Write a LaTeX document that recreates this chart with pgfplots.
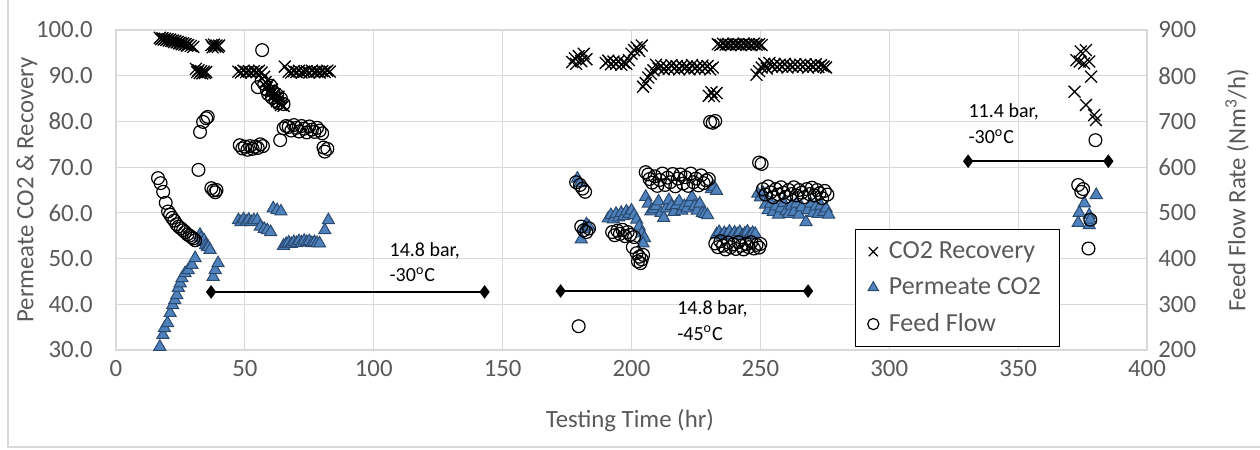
\documentclass[border=0pt]{standalone}
\usepackage{fontspec}
\setmainfont{Carlito}
\usepackage{pgfplots}
\pgfplotsset{compat=1.18}
\definecolor{txt}{HTML}{595959}
\definecolor{grd}{HTML}{D9D9D9}
\definecolor{trifill}{HTML}{4F81BD}
\definecolor{triedge}{HTML}{2A4A70}
\pgfplotsset{
 crossst/.style={only marks, mark=x, mark size=4.2pt, mark options={draw=black, line width=0.65pt}},
 trist/.style={only marks, mark=triangle*, mark size=3.5pt, mark options={fill=trifill, draw=triedge, line width=0.5pt}},
 circst/.style={only marks, mark=o, mark size=3.2pt, mark options={draw=black, line width=0.6pt}},
 annst/.style={black, line width=0.75pt, mark=diamond*, mark size=2.8pt, mark options={fill=black}},
}
\begin{document}
\begin{tikzpicture}
\useasboundingbox (0,0) rectangle (630pt,225pt);
\draw[grd, line width=0.6pt] (4pt,225pt) -- (4pt,1.5pt) -- (630pt,1.5pt);
\begin{axis}[
 at={(58pt,50pt)}, anchor=south west,
 scale only axis, width=515.5pt, height=160pt,
 xmin=0, xmax=400, ymin=30, ymax=100,
 xtick={0,50,...,400}, ytick={30,40,...,100},
 grid=major, grid style={grd, line width=0.6pt},
 axis line style={grd, line width=0.6pt},
 major tick length=0pt,
 /pgf/number format/assume math mode=true,
 tick label style={font=\fontsize{12.4}{14}\selectfont, text=txt},
 yticklabel style={/pgf/number format/fixed, /pgf/number format/fixed zerofill, /pgf/number format/precision=1, inner xsep=0pt, xshift=-11.5pt},
 xticklabel style={/pgf/number format/1000 sep={}, yshift=-1.5pt},
 xlabel={Testing Time (hr)},
 ylabel={Permeate CO2 \& Recovery},
 label style={font=\fontsize{12.4}{14}\selectfont, text=txt},
 xlabel style={at={(axis description cs:0.4985,-0.219)}, anchor=center},
 ylabel style={at={(axis description cs:-0.0863,0.5)}, anchor=center},
]
% CO2 Recovery
\addplot[crossst] coordinates {
(17.0,98.3)(17.5,98.0)(18.0,98.2)(18.5,97.9)(19.0,98.1)(19.5,97.8)(20.0,98.0)(20.5,97.7)(21.0,97.9)(21.5,97.6)
(22.0,97.7)(22.5,97.4)(23.0,97.6)(23.5,97.3)(24.0,97.4)(24.5,97.1)(25.0,97.2)(25.5,96.9)(26.0,97.1)(26.5,96.8)
(27.0,96.9)(27.5,96.6)(28.0,96.7)(29.0,96.5)(30.0,96.3)
(37.0,96.7)(37.5,96.2)(38.0,96.8)(38.5,96.4)(39.0,96.6)(39.5,96.3)(40.0,96.6)
(31.0,91.5)(31.5,90.8)(32.0,91.2)(32.5,90.6)(33.0,91.0)(33.5,90.5)(34.0,90.9)(34.5,90.6)(35.0,90.8)
(47.5,90.9)(48.5,90.7)(49.5,91.1)(50.5,90.8)(51.5,91.0)(52.5,90.7)(53.5,91.0)(54.5,90.8)(55.5,91.1)(56.5,90.7)
(57.5,89.8)(58.0,88.6)(58.5,87.4)(59.0,88.0)(59.5,86.8)(60.0,86.2)(60.5,87.0)(61.0,85.6)(61.5,86.0)(62.0,85.0)
(62.5,84.4)(63.0,85.4)(63.5,84.0)(64.0,83.6)(65.0,83.4)
(65.5,92.0)
(67.0,90.9)(68.0,90.7)(69.0,91.0)(70.0,90.8)(71.0,91.1)(72.0,90.7)(73.0,90.9)(74.0,91.0)(75.0,90.7)(76.0,91.1)
(77.0,90.8)(78.0,90.9)(79.0,90.7)(80.0,91.0)(81.0,90.8)(82.0,91.1)(83.0,90.9)
(177.0,93.0)(178.0,93.8)(178.5,92.6)(179.5,94.3)(180.5,93.2)(181.5,94.8)(182.5,93.6)
(190.0,92.8)(191.0,93.3)(192.0,92.5)(193.0,93.1)(194.0,92.6)(195.0,93.2)(196.0,92.4)(197.0,92.9)(198.0,92.6)(199.0,93.4)
(200.0,94.8)(201.0,95.6)(202.0,96.2)(203.0,95.4)(204.0,96.6)
(204.5,87.6)(205.5,88.4)(206.5,89.6)(207.5,90.4)(208.5,91.2)(209.5,92.4)(210.5,91.6)(211.5,92.2)(212.5,91.4)(213.5,92.0)
(214.5,91.5)(215.5,92.3)(216.5,91.6)(217.5,92.1)(218.5,91.4)(219.5,92.2)(220.5,91.7)(221.5,92.0)(222.5,91.4)(223.5,92.3)
(224.5,91.6)(225.5,92.0)(226.5,91.5)(227.5,92.2)(228.5,91.6)(229.5,92.1)(230.5,91.4)(231.5,91.8)
(230.0,85.6)(231.0,86.4)(232.0,85.5)(233.0,86.2)
(233.5,96.9)(234.5,96.7)(235.5,97.0)(236.5,96.8)(237.5,96.9)(238.5,96.7)(239.5,97.0)(240.5,96.8)(241.5,96.9)(242.5,96.7)
(243.5,97.0)(244.5,96.8)(245.5,96.9)(246.5,96.7)(247.5,97.0)(248.5,96.8)(249.5,96.9)(250.5,96.7)
(248.5,90.2)(249.5,91.0)(250.5,91.8)(251.5,92.6)(252.5,91.6)(253.5,92.8)(254.5,92.0)(255.5,92.5)(256.5,91.9)(257.5,92.4)
(258.5,92.0)(259.5,92.6)(260.5,91.8)(261.5,92.3)(262.5,92.0)(263.5,92.5)(264.5,91.9)(265.5,92.4)(266.5,92.0)(267.5,92.5)
(268.5,91.8)(269.5,92.3)(270.5,92.0)(271.5,92.5)(272.5,91.9)(273.5,92.3)(274.5,92.0)(275.5,91.8)
(371.9,86.5)(372.6,93.4)(373.9,93.1)(374.3,95.3)(376.3,95.6)(375.6,92.7)(377.6,93.1)(378.3,89.8)(376.3,83.6)(379.5,81.4)(380.2,80.3)
};
% Permeate CO2
\addplot[trist] coordinates {
(17.0,30.7)(18.2,33.3)(18.8,34.8)(20.0,35.9)(21.0,38.1)(22.0,39.8)(22.8,40.9)(23.6,42.0)(24.2,43.6)(24.9,44.6)
(25.6,45.7)(26.8,46.8)(28.0,47.5)(29.5,48.6)(30.7,50.1)
(32.6,55.2)(33.0,54.5)(33.8,53.6)(34.2,54.0)(34.8,53.0)(35.4,52.6)(35.8,52.5)(36.5,51.9)
(37.7,46.0)(38.5,47.5)(39.6,49.0)
(47.5,58.4)(48.5,58.0)(49.5,58.6)(50.5,58.1)(51.5,58.5)(52.5,58.0)(53.5,58.4)(54.8,58.4)(56.0,57.0)(57.5,56.5)
(58.7,56.2)(60.0,55.8)(61.0,61.0)(62.5,60.6)(64.0,60.3)
(65.0,52.8)(66.0,53.2)(67.0,53.5)(68.0,53.2)(69.0,53.6)(70.0,53.4)(71.0,53.8)(72.0,53.5)(73.0,53.9)(74.0,53.6)
(75.0,53.8)(76.0,53.4)(77.0,53.6)(78.0,53.4)(79.0,53.3)(81.0,56.2)(82.4,58.4)
(179.0,67.5)(180.0,66.5)(180.5,54.2)(181.5,56.5)(182.5,57.5)(183.5,57.0)
(191.0,58.8)(192.0,59.5)(193.0,58.6)(194.0,59.8)(195.0,59.0)(196.0,60.0)(197.0,59.3)(198.0,60.3)(199.0,59.8)(200.0,60.5)
(201.0,59.5)(202.0,58.5)(203.0,57.0)(204.0,55.5)(205.0,54.5)(204.5,53.3)
(205.5,63.5)(206.5,62.0)(207.5,60.3)(208.5,60.8)(209.5,61.5)(210.5,62.5)(211.5,60.0)(212.5,58.9)(213.5,61.0)(214.5,62.8)
(215.5,61.5)(216.5,60.2)(217.5,61.7)(218.5,62.5)(219.5,60.5)(220.5,61.5)(221.5,61.0)(222.5,62.2)(223.5,63.5)(224.5,61.5)
(225.5,60.5)(226.5,62.0)(227.5,60.0)(228.5,59.8)(229.5,59.5)(231.0,65.2)(232.0,65.7)(233.0,64.8)
(233.0,55.3)(234.0,55.8)(235.0,55.0)(236.0,55.6)(237.0,55.2)(238.0,55.9)(239.0,55.1)(240.0,55.7)(241.0,55.3)(242.0,55.8)
(243.0,55.0)(244.0,55.5)(245.0,55.9)(246.0,55.2)(247.0,55.6)(248.0,55.4)
(249.0,64.2)(250.0,63.4)(251.0,64.4)(252.0,61.8)(253.0,60.6)(254.0,62.0)(255.0,60.2)(256.0,61.4)(257.0,59.6)(258.0,61.0)
(259.0,62.2)(260.0,60.4)(261.0,59.8)(262.0,61.6)(263.0,60.2)(264.0,62.0)(265.0,59.6)(266.0,61.2)(267.7,58.0)(268.5,60.6)
(269.5,62.0)(270.5,60.0)(271.5,61.4)(272.5,59.8)(273.5,61.6)(274.5,60.2)(275.5,61.0)(276.5,59.6)
(380.3,63.9)(375.7,62.1)(373.7,60.0)(373.3,57.8)(377.6,59.5)(377.6,57.3)(378.0,58.5)
};
% annotations
\addplot[annst] coordinates {(36.9,42.7)(143.0,42.7)};
\addplot[annst] coordinates {(172.5,42.9)(268.5,42.9)};
\addplot[annst] coordinates {(330.6,71.3)(385.0,71.3)};
\node[anchor=north west, align=left, inner sep=0pt, font=\fontsize{10}{12.5}\selectfont] at (axis cs:106,53.6) {14.8 bar,\\-30\textsuperscript{o}C};
\node[anchor=north west, align=left, inner sep=0pt, font=\fontsize{10}{13}\selectfont] at (axis cs:217.6,41.0) {14.8 bar,\\-45\textsuperscript{o}C};
\node[anchor=north west, align=left, inner sep=0pt, font=\fontsize{10}{13}\selectfont] at (axis cs:330.6,84.0) {11.4 bar,\\-30\textsuperscript{o}C};
\end{axis}
\begin{axis}[
 at={(58pt,50pt)}, anchor=south west,
 scale only axis, width=515.5pt, height=160pt,
 xmin=0, xmax=400, ymin=200, ymax=900,
 axis y line*=right, axis x line=none,
 axis line style={draw=none},
 ytick={200,300,...,900},
 major tick length=0pt,
 /pgf/number format/assume math mode=true,
 tick label style={font=\fontsize{12.4}{14}\selectfont, text=txt},
 yticklabel style={inner xsep=0pt, xshift=5.5pt},
 ylabel={Feed Flow Rate (Nm\textsuperscript{3}/h)},
 label style={font=\fontsize{12.4}{14}\selectfont, text=txt},
 ylabel style={at={(axis description cs:1.0873,0.5)}, anchor=center, rotate=0},
 legend cell align=left,
 legend style={at={(rel axis cs:0.717,0.009)}, anchor=south west, draw=black, line width=0.5pt,
   font=\fontsize{13}{15}\selectfont, text=txt, row sep=4pt, inner xsep=6pt, inner ysep=4pt},
]
\addlegendimage{only marks, mark=x, mark size=3.2pt, mark options={draw=black, line width=0.6pt}}
\addlegendentry{\hspace*{3pt}CO2 Recovery\hspace*{4pt}}
\addlegendimage{only marks, mark=triangle*, mark size=3pt, mark options={fill=trifill, draw=triedge, line width=0.5pt}}
\addlegendentry{\hspace*{3pt}Permeate CO2}
\addlegendimage{only marks, mark=o, mark size=2.8pt, mark options={draw=black, line width=0.6pt}}
\addlegendentry{\hspace*{3pt}Feed Flow}
\addplot[circst, forget plot] coordinates {
(16.3,576)(17.3,565)(18.3,546)(19.3,522)(20.2,503)(21.0,496)(21.8,489)(22.6,483)(23.5,475)(24.3,470)
(25.2,466)(26.0,462)(26.8,458)(27.7,453)(28.5,450)(29.3,447)(30.0,444)(30.7,440)
(37.0,554)(37.8,549)(38.5,545)(39.0,550)
(32.0,594)(32.6,677)(33.8,699)(35.0,707)(35.6,710)
(56.7,856)
(48.0,648)(49.0,641)(50.0,645)(51.0,638)(52.0,646)(53.0,640)(54.0,645)(55.0,642)(56.0,650)(57.0,646)
(55.0,775)(56.5,790)(57.5,782)(58.5,770)(59.0,760)(60.0,778)(60.5,752)(61.0,765)(62.0,745)(62.5,758)(63.0,740)(64.0,750)(65.0,738)
(63.7,659)
(65.0,685)(66.0,690)(67.0,688)(68.0,680)(69.0,692)(70.0,686)(71.0,678)(72.0,690)(73.0,684)(74.0,676)
(75.0,689)(76.0,682)(77.0,677)(78.0,686)(79.0,680)(80.0,674)(80.5,643)(81.0,634)(82.0,640)
(178.5,567)(180.0,561)(181.0,553)(182.0,546)(179.5,252)
(180.5,470)(181.5,462)(182.5,458)(183.5,466)
(192.5,458)(193.5,451)(194.5,461)(195.5,454)(196.5,463)(197.5,449)(198.5,458)(199.5,452)(201.0,447)
(200.5,425)(202.0,412)(203.0,404)(204.0,398)(202.5,394)(203.5,390)(204.5,408)
(205.5,589)(206.5,584)(207.0,574)(208.0,566)(209.0,580)(210.0,559)(211.0,572)(212.0,586)(213.0,561)(214.0,577)
(215.0,567)(216.0,585)(217.0,558)(218.0,575)(219.0,584)(220.0,564)(221.0,578)(222.0,559)(223.0,586)(224.0,567)
(225.0,575)(226.0,560)(227.0,582)(228.0,565)(229.0,571)(230.0,574)
(230.5,699)(231.5,697)(232.5,701)
(232.5,433)(233.5,425)(234.5,438)(235.5,428)(236.5,420)(237.5,435)(238.5,425)(239.5,431)(240.5,421)(241.5,436)
(242.5,428)(243.5,420)(244.5,432)(245.5,425)(246.5,436)(247.5,422)(248.5,430)(249.5,424)(250.0,432)
(249.5,610)(250.5,607)
(251.0,552)(252.0,540)(253.0,558)(254.0,545)(255.0,534)(256.0,552)(257.0,540)(258.0,556)(259.0,544)(260.0,535)
(261.0,550)(262.0,541)(263.0,556)(264.0,538)(265.0,550)(266.0,544)(267.0,534)(268.0,552)(269.0,541)(270.0,555)
(271.0,538)(272.0,550)(273.0,543)(274.0,532)(275.0,548)(276.0,540)
(373.3,561)(374.5,546)(375.2,552)(378.0,485)(377.3,422)(380.0,659)
};
\end{axis}
\end{tikzpicture}
\end{document}
